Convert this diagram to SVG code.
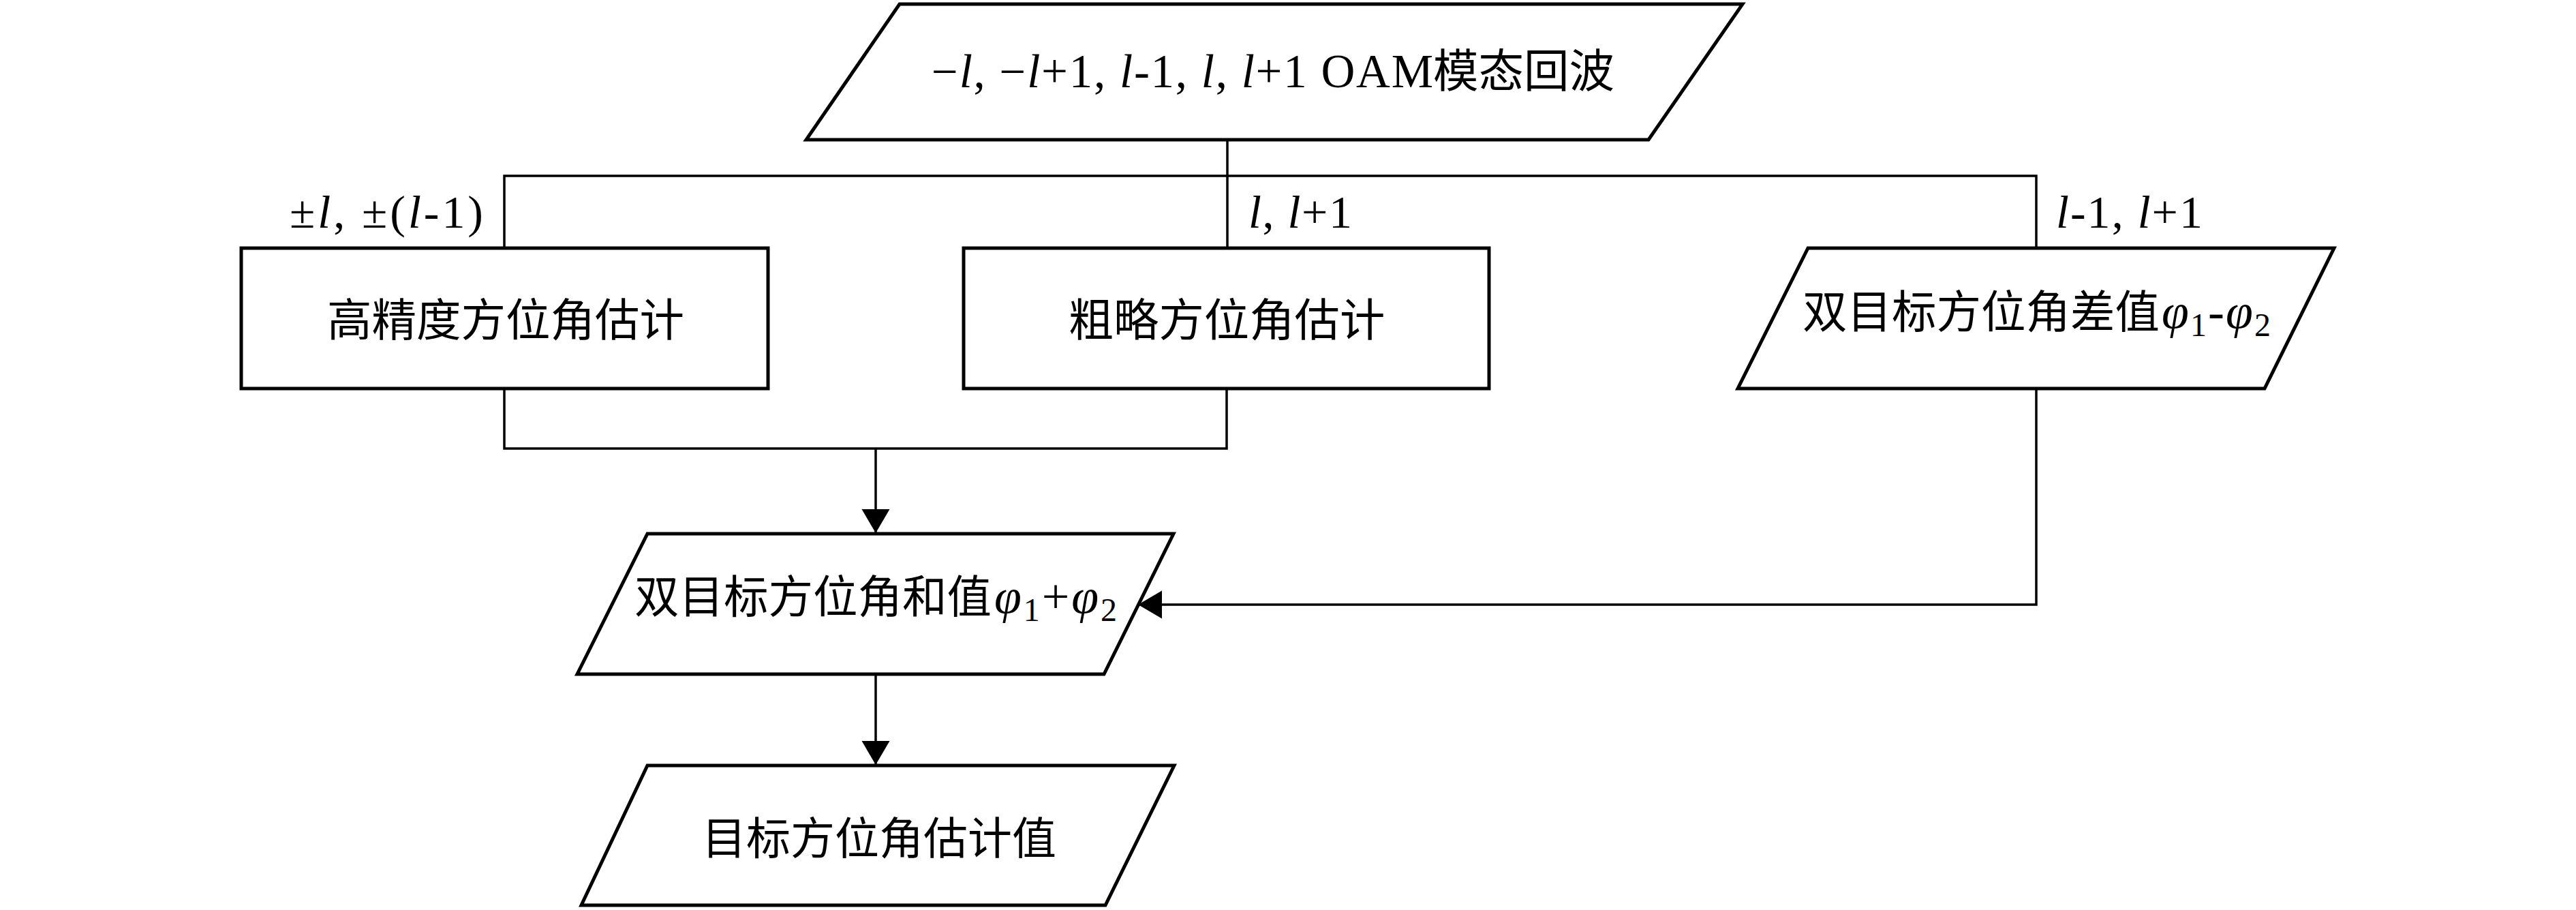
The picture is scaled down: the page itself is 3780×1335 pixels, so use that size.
<svg xmlns="http://www.w3.org/2000/svg" width="3780" height="1335" viewBox="0 0 3780 1335">
<defs>
<style>
.node{fill:#fff;stroke:#000;stroke-width:5;stroke-linejoin:miter}
.conn{fill:none;stroke:#000;stroke-width:3.5}
.t{font-family:"Liberation Serif","Noto Sans CJK SC",serif;fill:#000}
.cjk{font-family:"Noto Sans CJK SC","Liberation Serif",sans-serif;font-size:65.5px;fill:#000}
.m{font-family:"Liberation Serif","DejaVu Serif",serif;font-size:68px;fill:#000}
.i{font-style:italic}
.sub{font-size:48px}
</style>
<marker id="ah" markerUnits="userSpaceOnUse" markerWidth="36" markerHeight="42" refX="35" refY="20.5" orient="auto">
<path d="M0,0 L35,20.5 L0,41 Z" fill="#000"/>
</marker>
</defs>
<rect width="3780" height="1335" fill="#fff"/>

<g id="connectors">
<path class="conn" d="M1801,205 V258"/>
<path class="conn" d="M740,364 V258 H2988 V364"/>
<path class="conn" d="M1801,258 V364"/>
<path class="conn" d="M740,570 V658 H1800 V570"/>
<path class="conn" d="M1285,658 V782" marker-end="url(#ah)"/>
<path class="conn" d="M1285,989 V1122" marker-end="url(#ah)"/>
<path class="conn" d="M2988,570 V887 H1670" marker-end="url(#ah)"/>
</g>

<g id="label-left">
<text class="m" x="425" y="334" textLength="284" lengthAdjust="spacing">±<tspan class="i">l</tspan>, ±(<tspan class="i">l</tspan>-1)</text>
</g>
<g id="label-mid">
<text class="m" x="1832" y="334" textLength="152" lengthAdjust="spacing"><tspan class="i">l</tspan>, <tspan class="i">l</tspan>+1</text>
</g>
<g id="label-right">
<text class="m" x="3017" y="334" textLength="215" lengthAdjust="spacing"><tspan class="i">l</tspan>-1, <tspan class="i">l</tspan>+1</text>
</g>

<g id="node-echo">
<polygon class="node" points="1320,6 2557,6 2419,205 1183,205"/>
<text class="t" x="1367" y="128" font-size="69" textLength="736" lengthAdjust="spacing">−<tspan class="i">l</tspan>, −<tspan class="i">l</tspan>+1, <tspan class="i">l</tspan>-1, <tspan class="i">l</tspan>, <tspan class="i">l</tspan>+1 OAM</text>
<text class="cjk" x="2103" y="128" style="font-size:66.5px">模态回波</text>
</g>

<g id="node-fine">
<rect class="node" x="354" y="364" width="773" height="206"/>
<text class="cjk" x="742" y="493" text-anchor="middle">高精度方位角估计</text>
</g>

<g id="node-coarse">
<rect class="node" x="1414" y="364" width="771" height="206"/>
<text class="cjk" x="1800" y="493" text-anchor="middle" style="font-size:66.4px">粗略方位角估计</text>
</g>

<g id="node-diff">
<polygon class="node" points="2653,364 3425,364 3323,570 2550,570"/>
<text class="cjk" x="2645" y="481">双目标方位角差值</text>
<text class="m" x="3172" y="481" style="font-size:72px" textLength="160" lengthAdjust="spacing"><tspan class="i">φ</tspan><tspan class="sub" dy="12">1</tspan><tspan dy="-12">-</tspan><tspan class="i">φ</tspan><tspan class="sub" dy="12">2</tspan></text>
</g>

<g id="node-sum">
<polygon class="node" points="950,783 1722,783 1620,989 847,989"/>
<text class="cjk" x="931" y="899">双目标方位角和值</text>
<text class="m" x="1459" y="899" style="font-size:72px" textLength="180" lengthAdjust="spacing"><tspan class="i">φ</tspan><tspan class="sub" dy="12">1</tspan><tspan dy="-12">+</tspan><tspan class="i">φ</tspan><tspan class="sub" dy="12">2</tspan></text>
</g>

<g id="node-result">
<polygon class="node" points="950,1123 1723,1123 1622,1328 853,1328"/>
<text class="cjk" x="1290" y="1253" text-anchor="middle" style="font-size:65px">目标方位角估计值</text>
</g>
</svg>
